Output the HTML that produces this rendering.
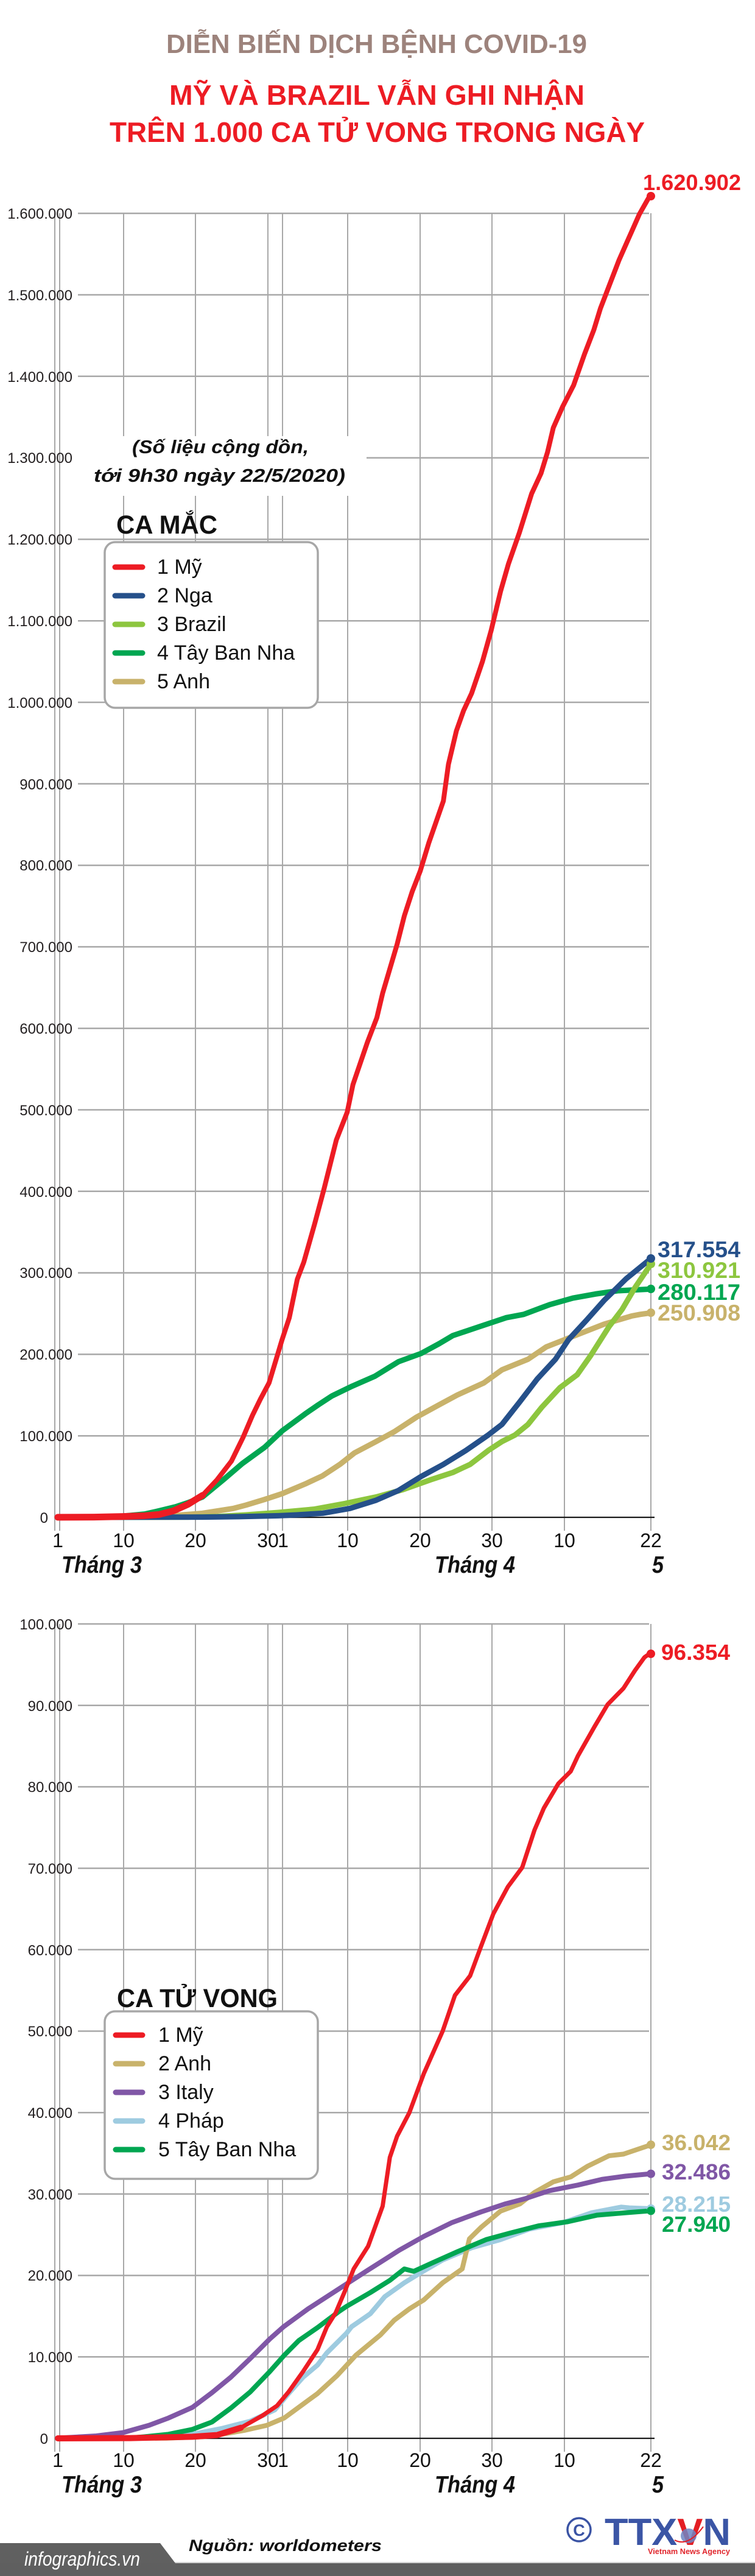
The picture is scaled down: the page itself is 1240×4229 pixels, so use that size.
<!DOCTYPE html>
<html>
<head>
<meta charset="utf-8">
<style>
  html,body{margin:0;padding:0;background:#ffffff;}
  body{width:1240px;height:4229px;overflow:hidden;}
  svg{display:block;}
  text{font-family:"Liberation Sans",sans-serif;}
</style>
</head>
<body>
<svg width="1240" height="4229" viewBox="0 0 1240 4229" xmlns="http://www.w3.org/2000/svg">
  <rect x="0" y="0" width="1240" height="4229" fill="#ffffff"/>

  <!-- ===== TITLES ===== -->
  <text x="273" y="87" font-size="44" font-weight="bold" fill="#9d837c" textLength="691" lengthAdjust="spacingAndGlyphs">DIỄN BIẾN DỊCH BỆNH COVID-19</text>
  <text x="278" y="172" font-size="46" font-weight="bold" fill="#ed1c24" textLength="682" lengthAdjust="spacingAndGlyphs">MỸ VÀ BRAZIL VẪN GHI NHẬN</text>
  <text x="180" y="233" font-size="46" font-weight="bold" fill="#ed1c24" textLength="879" lengthAdjust="spacingAndGlyphs">TRÊN 1.000 CA TỬ VONG TRONG NGÀY</text>

  <!-- ===== CHART 1 GRID ===== -->
  <g stroke="#a8a8a8" stroke-width="2.5">
    <line x1="128" y1="350.2" x2="1066" y2="350.2"/>
    <line x1="128" y1="484" x2="1066" y2="484"/>
    <line x1="128" y1="617.8" x2="1066" y2="617.8"/>
    <line x1="128" y1="751.6" x2="1066" y2="751.6"/>
    <line x1="128" y1="885.4" x2="1066" y2="885.4"/>
    <line x1="128" y1="1019.2" x2="1066" y2="1019.2"/>
    <line x1="128" y1="1153" x2="1066" y2="1153"/>
    <line x1="128" y1="1286.8" x2="1066" y2="1286.8"/>
    <line x1="128" y1="1420.6" x2="1066" y2="1420.6"/>
    <line x1="128" y1="1554.4" x2="1066" y2="1554.4"/>
    <line x1="128" y1="1688.2" x2="1066" y2="1688.2"/>
    <line x1="128" y1="1822" x2="1066" y2="1822"/>
    <line x1="128" y1="1955.8" x2="1066" y2="1955.8"/>
    <line x1="128" y1="2089.6" x2="1066" y2="2089.6"/>
    <line x1="128" y1="2223.4" x2="1066" y2="2223.4"/>
    <line x1="128" y1="2357.2" x2="1066" y2="2357.2"/>
  </g>
  <g stroke="#a8a8a8" stroke-width="2">
    <line x1="90" y1="350" x2="90" y2="2513"/>
    <line x1="98" y1="350" x2="98" y2="2513"/>
    <line x1="203" y1="350" x2="203" y2="2513"/>
    <line x1="321" y1="350" x2="321" y2="2513"/>
    <line x1="440" y1="350" x2="440" y2="2513"/>
    <line x1="464" y1="350" x2="464" y2="2513"/>
    <line x1="571" y1="350" x2="571" y2="2513"/>
    <line x1="690" y1="350" x2="690" y2="2513"/>
    <line x1="808" y1="350" x2="808" y2="2513"/>
    <line x1="927" y1="350" x2="927" y2="2513"/>
    <line x1="1069" y1="350" x2="1069" y2="2513"/>
  </g>
  <line x1="93" y1="2491" x2="1075" y2="2491" stroke="#1a1a1a" stroke-width="2.2"/>

  <!-- chart 1 note (white background behind text) -->
  <rect x="124" y="716" width="478" height="98" fill="#ffffff"/>
  <g font-size="31" font-weight="bold" font-style="italic" fill="#111">
    <text x="217" y="744" textLength="290" lengthAdjust="spacingAndGlyphs">(Số liệu cộng dồn,</text>
    <text x="154" y="791" textLength="413" lengthAdjust="spacingAndGlyphs">tới 9h30 ngày 22/5/2020)</text>
  </g>

  <!-- chart 1 y labels -->
  <g font-size="24" fill="#231f20" text-anchor="end">
    <text x="119" y="359">1.600.000</text>
    <text x="119" y="493">1.500.000</text>
    <text x="119" y="627">1.400.000</text>
    <text x="119" y="760">1.300.000</text>
    <text x="119" y="894">1.200.000</text>
    <text x="119" y="1028">1.100.000</text>
    <text x="119" y="1162">1.000.000</text>
    <text x="119" y="1296">900.000</text>
    <text x="119" y="1429">800.000</text>
    <text x="119" y="1563">700.000</text>
    <text x="119" y="1697">600.000</text>
    <text x="119" y="1831">500.000</text>
    <text x="119" y="1965">400.000</text>
    <text x="119" y="2098">300.000</text>
    <text x="119" y="2232">200.000</text>
    <text x="119" y="2366">100.000</text>
    <text x="79" y="2500">0</text>
  </g>

  <!-- chart 1 x labels -->
  <g font-size="32" fill="#111" text-anchor="middle">
    <text x="95" y="2540">1</text>
    <text x="203" y="2540">10</text>
    <text x="321" y="2540">20</text>
    <text x="440" y="2540">30</text>
    <text x="465" y="2540">1</text>
    <text x="571" y="2540">10</text>
    <text x="690" y="2540">20</text>
    <text x="808" y="2540">30</text>
    <text x="927" y="2540">10</text>
    <text x="1069" y="2540">22</text>
  </g>
  <g font-size="39" font-weight="bold" font-style="italic" fill="#111">
    <text x="101" y="2582" textLength="132" lengthAdjust="spacingAndGlyphs">Tháng 3</text>
    <text x="714" y="2582" textLength="132" lengthAdjust="spacingAndGlyphs">Tháng 4</text>
    <text x="1071" y="2582" textLength="19" lengthAdjust="spacingAndGlyphs">5</text>
  </g>

  <!-- chart 1 legend -->
  <text x="191" y="876" font-size="43" font-weight="bold" fill="#111" textLength="166" lengthAdjust="spacingAndGlyphs">CA MẮC</text>
  <rect x="172" y="890" width="350" height="272" rx="17" ry="17" fill="#ffffff" stroke="#a7a7a7" stroke-width="3.5"/>
  <g stroke-width="9" stroke-linecap="round">
    <line x1="189" y1="931" x2="234" y2="931" stroke="#ed1c24"/>
    <line x1="189" y1="978" x2="234" y2="978" stroke="#25508a"/>
    <line x1="189" y1="1025" x2="234" y2="1025" stroke="#8dc63f"/>
    <line x1="189" y1="1072" x2="234" y2="1072" stroke="#00a651"/>
    <line x1="189" y1="1119" x2="234" y2="1119" stroke="#c8b26b"/>
  </g>
  <g font-size="34" fill="#111">
    <text x="258" y="942">1 Mỹ</text>
    <text x="258" y="989">2 Nga</text>
    <text x="258" y="1036">3 Brazil</text>
    <text x="258" y="1083">4 Tây Ban Nha</text>
    <text x="258" y="1130">5 Anh</text>
  </g>

  <!-- chart 1 series -->
  <g transform="translate(95 2491) scale(11.88 -1.338)" fill="none" stroke-linejoin="round" stroke-linecap="round">
    <polyline vector-effect="non-scaling-stroke" stroke="#c8b26b" stroke-width="9"
      points="0,0 10,0.4 15,1.5 20,5 24.3,11 26,15 28.6,22 31,29 34.2,41 36.6,51 39,65 41,79 44,93 46.5,105 49.6,123 52.7,138 55.2,150 58.9,165 61.4,181 65,194 67.5,209 71.2,222 75.5,237 79.3,247 80.5,249 82,250.9"/>
    <polyline vector-effect="non-scaling-stroke" stroke="#00a651" stroke-width="9"
      points="0,0.1 6,0.5 9,1.5 12,4 14,8 16.3,13 18,18 20,25 23,47 25.5,66 28.6,86 31,106 34.2,127 36,138 37.9,149 40.7,161 43.8,173 47.1,191 50.2,201 52.7,213 54.6,223 58.3,234 62,245 64.4,249 68,261 71.2,269 74.3,274 77.4,278 82,280.1"/>
    <polyline vector-effect="non-scaling-stroke" stroke="#8dc63f" stroke-width="9"
      points="0,0 18,0.3 22,1 26,3 30.5,6 35.4,10 39.7,17 44,25 47.7,34 51.5,46 54.6,55 57,65 59.5,82 61.4,93 63.2,101 65,114 66.9,135 69.4,159 71.8,175 73.7,199 76.2,234 78,255 79.8,282 82,310.9"/>
    <polyline vector-effect="non-scaling-stroke" stroke="#25508a" stroke-width="9"
      points="0,0 20,0.3 25,0.8 30.5,2 33,3 36.6,5 40.4,11 44,21 47.1,33 50.2,50 53.3,65 56.4,82 59.5,101 61.4,114 63.8,141 66.3,170 68.8,194 70.6,218 73.1,242 75.5,266 78.6,293 82,317.6"/>
    <polyline vector-effect="non-scaling-stroke" stroke="#ed1c24" stroke-width="11"
      points="0,0.1 5,0.3 9,1 12,2 14,3.5 16,8 18,16 20,27"/>
    <polyline vector-effect="non-scaling-stroke" stroke="#ed1c24" stroke-width="8"
      points="0,0.1 5,0.3 9,1 12,2 14,3.5 16,8 18,16 20,27 22,46 24,69 25.6,98 26.9,125 28,145 29.2,165 31,218 32,245 33.1,292 34,313 35.5,360 36.8,403 38.5,463 40,497 40.8,531 42.8,583 44.1,613 44.9,643 46.9,703 47.9,738 49,768 50.1,793 51.3,828 53.3,879 54,924 55.1,965 56.1,990 57.2,1011 58.7,1050 59.9,1088 61.2,1136 62.3,1170 63.8,1208 65.5,1256 66.8,1281 67.7,1307 68.5,1337 69.8,1363 71.3,1389 72.8,1427 74.1,1457 75,1483 76.3,1513 77.6,1543 78.9,1569 80.4,1599 81.8,1620.9"/>
  </g>
  <circle cx="1069" cy="322" r="7" fill="#ed1c24"/>
  <circle cx="1069" cy="2155" r="7" fill="#c8b26b"/>
  <circle cx="1069" cy="2116" r="7" fill="#00a651"/>
  <circle cx="1069" cy="2075" r="7" fill="#8dc63f"/>
  <circle cx="1069" cy="2066" r="7" fill="#25508a"/>

  <text x="1056" y="312" font-size="36" font-weight="bold" fill="#ed1c24" textLength="161" lengthAdjust="spacingAndGlyphs">1.620.902</text>
  <g font-size="37" font-weight="bold">
    <text x="1080" y="2064" fill="#25508a" textLength="136" lengthAdjust="spacingAndGlyphs">317.554</text>
    <text x="1080" y="2098" fill="#8dc63f" textLength="136" lengthAdjust="spacingAndGlyphs">310.921</text>
    <text x="1080" y="2134" fill="#00a651" textLength="136" lengthAdjust="spacingAndGlyphs">280.117</text>
    <text x="1080" y="2168" fill="#c8b26b" textLength="136" lengthAdjust="spacingAndGlyphs">250.908</text>
  </g>

  <!-- ===== CHART 2 GRID ===== -->
  <g stroke="#a8a8a8" stroke-width="2.5">
    <line x1="128" y1="2666" x2="1066" y2="2666"/>
    <line x1="128" y1="2799.7" x2="1066" y2="2799.7"/>
    <line x1="128" y1="2933.4" x2="1066" y2="2933.4"/>
    <line x1="128" y1="3067.1" x2="1066" y2="3067.1"/>
    <line x1="128" y1="3200.8" x2="1066" y2="3200.8"/>
    <line x1="128" y1="3334.5" x2="1066" y2="3334.5"/>
    <line x1="128" y1="3468.2" x2="1066" y2="3468.2"/>
    <line x1="128" y1="3601.9" x2="1066" y2="3601.9"/>
    <line x1="128" y1="3735.6" x2="1066" y2="3735.6"/>
    <line x1="128" y1="3869.3" x2="1066" y2="3869.3"/>
  </g>
  <g stroke="#a8a8a8" stroke-width="2">
    <line x1="90" y1="2666" x2="90" y2="4025"/>
    <line x1="98" y1="2666" x2="98" y2="4025"/>
    <line x1="203" y1="2666" x2="203" y2="4025"/>
    <line x1="321" y1="2666" x2="321" y2="4025"/>
    <line x1="440" y1="2666" x2="440" y2="4025"/>
    <line x1="464" y1="2666" x2="464" y2="4025"/>
    <line x1="571" y1="2666" x2="571" y2="4025"/>
    <line x1="690" y1="2666" x2="690" y2="4025"/>
    <line x1="808" y1="2666" x2="808" y2="4025"/>
    <line x1="927" y1="2666" x2="927" y2="4025"/>
    <line x1="1069" y1="2666" x2="1069" y2="4025"/>
  </g>
  <line x1="93" y1="4003" x2="1075" y2="4003" stroke="#1a1a1a" stroke-width="2.2"/>

  <g font-size="24" fill="#231f20" text-anchor="end">
    <text x="119" y="2675">100.000</text>
    <text x="119" y="2809">90.000</text>
    <text x="119" y="2942">80.000</text>
    <text x="119" y="3076">70.000</text>
    <text x="119" y="3210">60.000</text>
    <text x="119" y="3343">50.000</text>
    <text x="119" y="3477">40.000</text>
    <text x="119" y="3611">30.000</text>
    <text x="119" y="3744">20.000</text>
    <text x="119" y="3878">10.000</text>
    <text x="79" y="4012">0</text>
  </g>

  <g font-size="32" fill="#111" text-anchor="middle">
    <text x="95" y="4050">1</text>
    <text x="203" y="4050">10</text>
    <text x="321" y="4050">20</text>
    <text x="440" y="4050">30</text>
    <text x="465" y="4050">1</text>
    <text x="571" y="4050">10</text>
    <text x="690" y="4050">20</text>
    <text x="808" y="4050">30</text>
    <text x="927" y="4050">10</text>
    <text x="1069" y="4050">22</text>
  </g>
  <g font-size="39" font-weight="bold" font-style="italic" fill="#111">
    <text x="101" y="4092" textLength="132" lengthAdjust="spacingAndGlyphs">Tháng 3</text>
    <text x="714" y="4092" textLength="132" lengthAdjust="spacingAndGlyphs">Tháng 4</text>
    <text x="1071" y="4092" textLength="19" lengthAdjust="spacingAndGlyphs">5</text>
  </g>

  <!-- chart 2 legend -->
  <text x="192" y="3295" font-size="43" font-weight="bold" fill="#111" textLength="264" lengthAdjust="spacingAndGlyphs">CA TỬ VONG</text>
  <rect x="172" y="3302" width="350" height="275" rx="17" ry="17" fill="#ffffff" stroke="#a7a7a7" stroke-width="3.5"/>
  <g stroke-width="9" stroke-linecap="round">
    <line x1="190" y1="3341" x2="234" y2="3341" stroke="#ed1c24"/>
    <line x1="190" y1="3388" x2="234" y2="3388" stroke="#c8b26b"/>
    <line x1="190" y1="3435" x2="234" y2="3435" stroke="#8057a6"/>
    <line x1="190" y1="3482" x2="234" y2="3482" stroke="#9ecbe0"/>
    <line x1="190" y1="3529" x2="234" y2="3529" stroke="#00a651"/>
  </g>
  <g font-size="34" fill="#111">
    <text x="260" y="3352">1 Mỹ</text>
    <text x="260" y="3399">2 Anh</text>
    <text x="260" y="3446">3 Italy</text>
    <text x="260" y="3493">4 Pháp</text>
    <text x="260" y="3540">5 Tây Ban Nha</text>
  </g>

  <!-- chart 2 series -->
  <g transform="translate(95 4003) scale(11.88 -13.37)" fill="none" stroke-linejoin="round" stroke-linecap="round">
    <polyline vector-effect="non-scaling-stroke" stroke="#9ecbe0" stroke-width="8"
      points="0,0 15,0.15 18.6,0.5 22.6,1.2 26.6,2.1 30,3.5 31.9,5.5 33.9,7.5 35.9,9 37.2,10.5 39.9,12.9 40.6,13.7 43.2,15.3 45.2,17.4 47.9,19.1 49.9,20.2 53.2,21.9 57.2,23.4 61.2,24.4 65.2,25.7 69.9,26.5 73.8,27.7 77.9,28.4 79,28.3 82,28.2"/>
    <polyline vector-effect="non-scaling-stroke" stroke="#c8b26b" stroke-width="8"
      points="0,0 15,0.02 20,0.2 22,0.4 25.9,1 28.9,1.6 31.3,2.5 33.9,4.2 35.9,5.5 38.6,7.7 41.2,10.2 44.6,12.7 46.5,14.5 48.6,15.9 50.6,17 53.2,19.1 55.9,20.8 56.9,24.5 58.5,25.9 61.2,27.9 63.9,28.8 65.9,30.2 68.5,31.5 70.9,32.1 73.2,33.4 76.2,34.7 78.2,34.9 82,36.04"/>
    <polyline vector-effect="non-scaling-stroke" stroke="#8057a6" stroke-width="8"
      points="0,0.03 5.3,0.3 9,0.7 12.6,1.6 15.3,2.5 18.6,3.8 21.3,5.6 23.9,7.5 26.6,9.8 29.3,12.2 31.2,13.7 34.6,15.9 38.6,18.2 42.6,20.5 47.2,23.1 50.6,24.8 54.5,26.5 58.5,27.8 61.9,28.8 64.5,29.4 67.9,30.4 71.9,31.1 75.2,31.8 78.5,32.2 82,32.49"/>
    <polyline vector-effect="non-scaling-stroke" stroke="#00a651" stroke-width="8"
      points="0,0 10,0.05 12,0.2 15.3,0.5 18.6,1.1 21.3,2 23.9,3.7 26.6,5.7 29.3,8.2 31.3,10.2 33.3,12 35.9,13.6 38.9,15.6 39.9,16.2 43.2,17.9 45.9,19.4 47.9,20.8 49.2,20.5 51.9,21.6 55.2,22.9 59.2,24.4 62.5,25.2 66.5,26.1 70.5,26.6 74.5,27.4 78.5,27.7 82,27.94"/>
    <polyline vector-effect="non-scaling-stroke" stroke="#ed1c24" stroke-width="10"
      points="0,0.002 10,0.03 18.6,0.2 22,0.4 25.3,1.3"/>
    <polyline vector-effect="non-scaling-stroke" stroke="#ed1c24" stroke-width="7"
      points="0,0.002 10,0.03 18.6,0.2 22,0.4 25.3,1.3 28.3,2.8 30.3,4 31.9,5.7 33.9,8.2 35.9,10.9 37.2,13.7 38.4,15.4 39.6,17.9 40.9,20.8 42.9,23.6 44.9,28.5 45.9,34.5 46.9,37.1 48.6,40 50.6,44.8 53.2,50 54.9,54.4 57,56.8 58.5,60.4 60.2,64.4 62.2,67.7 64.2,70.1 65.9,74.7 67.2,77.4 69.2,80.4 70.9,81.9 71.9,83.8 74.2,87.4 76,90.1 78.2,92.1 79.8,94.3 81.1,95.9 81.8,96.35"/>
  </g>
  <circle cx="1069" cy="2715" r="7" fill="#ed1c24"/>
  <circle cx="1069" cy="3521" r="7" fill="#c8b26b"/>
  <circle cx="1069" cy="3568.7" r="7" fill="#8057a6"/>
  <circle cx="1069" cy="3625.8" r="7" fill="#9ecbe0"/>
  <circle cx="1069" cy="3629.4" r="7" fill="#00a651"/>

  <g font-size="36" font-weight="bold">
    <text x="1086" y="2725" fill="#ed1c24" textLength="113" lengthAdjust="spacingAndGlyphs">96.354</text>
    <text x="1087" y="3530" fill="#c8b26b" textLength="113" lengthAdjust="spacingAndGlyphs">36.042</text>
    <text x="1087" y="3578" fill="#8057a6" textLength="113" lengthAdjust="spacingAndGlyphs">32.486</text>
    <text x="1087" y="3631" fill="#9ecbe0" textLength="113" lengthAdjust="spacingAndGlyphs">28.215</text>
    <text x="1087" y="3664" fill="#00a651" textLength="113" lengthAdjust="spacingAndGlyphs">27.940</text>
  </g>

  <!-- ===== FOOTER ===== -->
  <text x="310" y="4188" font-size="27" font-weight="bold" font-style="italic" fill="#111" textLength="317" lengthAdjust="spacingAndGlyphs">Nguồn: worldometers</text>

  <!-- logo -->
  <circle cx="951" cy="4153" r="19" fill="none" stroke="#3a53a4" stroke-width="3.5"/>
  <text x="951" y="4163" font-size="27" font-weight="bold" fill="#3a53a4" text-anchor="middle">C</text>
  <text x="993" y="4178" font-size="62" font-weight="bold" fill="#3b55a5" textLength="207" lengthAdjust="spacingAndGlyphs">TTX<tspan fill="#e31e24">V</tspan>N</text>
  <ellipse cx="1131" cy="4163" rx="13" ry="12" fill="#6f86c4" opacity="0.85"/>
  <path d="M1108 4170 Q1130 4182 1155 4148" fill="none" stroke="#e31e24" stroke-width="2"/>
  <text x="1064" y="4193" font-size="13" font-weight="bold" fill="#e1262d" textLength="135" lengthAdjust="spacingAndGlyphs">Vietnam News Agency</text>

  <!-- bottom bar -->
  <rect x="0" y="4206" width="1240" height="2" fill="#d2d2d2"/>
  <rect x="0" y="4208" width="1240" height="21" fill="#5f5f5f"/>
  <polygon points="0,4175 263,4175 288,4208 0,4208" fill="#606060"/>
  <text x="40" y="4212" font-size="32" font-style="italic" fill="#ffffff" textLength="190" lengthAdjust="spacingAndGlyphs">infographics.vn</text>
</svg>
</body>
</html>
